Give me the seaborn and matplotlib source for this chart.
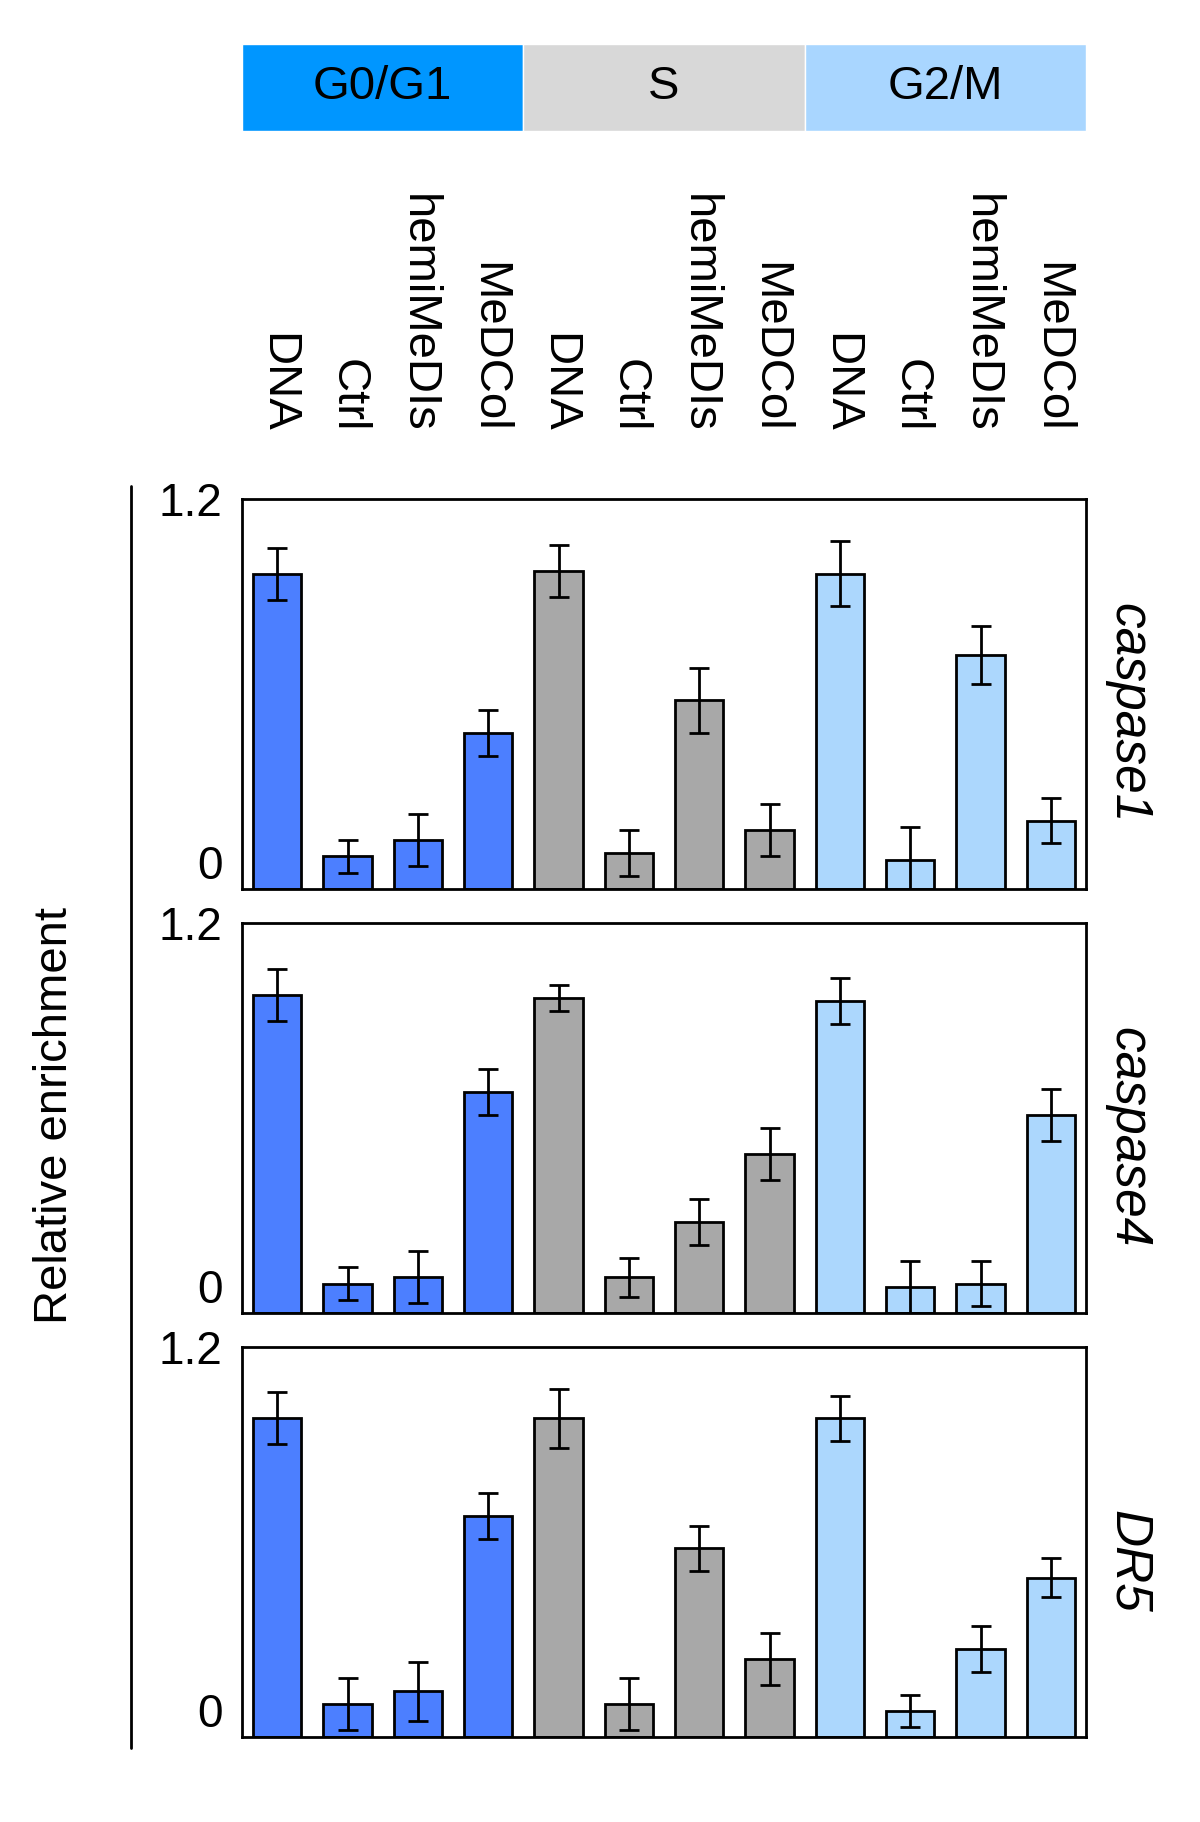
import numpy as np
import pandas as pd
import matplotlib.pyplot as plt
from matplotlib.lines import Line2D
import seaborn as sns

phases = ['G0/G1', 'S', 'G2/M']
treatments = ['DNA', 'Ctrl', 'hemiMeDIs', 'MeDCol']
genes = ['caspase1', 'caspase4', 'DR5']

caspase1_mean = [0.97, 0.10, 0.15, 0.48, 0.98, 0.11, 0.58, 0.18, 0.97, 0.09, 0.72, 0.21]
caspase1_err = [0.08, 0.05, 0.08, 0.07, 0.08, 0.07, 0.10, 0.08, 0.10, 0.10, 0.09, 0.07]
caspase4_mean = [0.98, 0.09, 0.11, 0.68, 0.97, 0.11, 0.28, 0.49, 0.96, 0.08, 0.09, 0.61]
caspase4_err = [0.08, 0.05, 0.08, 0.07, 0.04, 0.06, 0.07, 0.08, 0.07, 0.08, 0.07, 0.08]
dr5_mean = [0.98, 0.10, 0.14, 0.68, 0.98, 0.10, 0.58, 0.24, 0.98, 0.08, 0.27, 0.49]
dr5_err = [0.08, 0.08, 0.09, 0.07, 0.09, 0.08, 0.07, 0.08, 0.07, 0.05, 0.07, 0.06]

bar_colors = ['#4C7FFF', '#A8A8A8', '#ACD7FD']
strip_colors = ['#0096FF', '#D8D8D8', '#A9D6FF']

sns.set_style('white')
plt.rcParams['font.family'] = ['Liberation Sans', 'DejaVu Sans']
plt.rcParams['text.color'] = 'black'
plt.rcParams['xtick.color'] = 'black'
plt.rcParams['ytick.color'] = 'black'

# long table: one row per bar
rows = []
for phase in phases:
    for t in treatments:
        rows.append({'phase': phase, 'treatment': t, 'key': phase + ' ' + t})
df = pd.DataFrame(rows)
df['caspase1'] = caspase1_mean
df['caspase4'] = caspase4_mean
df['DR5'] = dr5_mean
errs = {'caspase1': caspase1_err, 'caspase4': caspase4_err, 'DR5': dr5_err}
palette = dict(zip(phases, bar_colors))

fig = plt.figure(figsize=(12, 18.22), dpi=100)
left, width = 0.2017, 0.7033

# cell-cycle strip on top
ax_strip = fig.add_axes([left, 0.9281, width, 0.0478])
for i, phase in enumerate(phases):
    ax_strip.barh(0, 4, left=i * 4 - 0.5, height=1, color=strip_colors[i])
    ax_strip.text(i * 4 + 1.5, 0, phase, ha='center', va='center', fontsize=34)
ax_strip.set_xlim(-0.5, 11.5)
ax_strip.set_ylim(-0.5, 0.5)
ax_strip.axis('off')

bottoms = [0.5121, 0.2794, 0.0467]
for k, gene in enumerate(genes):
    ax = fig.add_axes([left, bottoms[k], width, 0.214])
    sns.barplot(data=df, x='key', y=gene, hue='phase', palette=palette,
                dodge=False, legend=False, width=0.69, saturation=1,
                edgecolor='black', linewidth=2, ax=ax)
    ax.errorbar(np.arange(len(df)), df[gene], yerr=errs[gene], fmt='none',
                ecolor='black', elinewidth=2, capsize=7, capthick=2)
    ax.set_xlim(-0.5, 11.5)
    ax.set_ylim(0, 1.2)
    ax.set_yticks([0, 1.2])
    ax.set_yticklabels(['0', '1.2'])
    ax.tick_params(axis='y', length=0, pad=14, labelsize=33)
    ylabels = ax.get_yticklabels()
    ylabels[0].set_va('bottom')
    ax.set_xlabel('')
    ax.set_ylabel('')
    for s in ax.spines.values():
        s.set_visible(True)
        s.set_color('black')
        s.set_linewidth(2)
    ax.text(1.05, 0.45, gene, transform=ax.transAxes, rotation=270,
            ha='center', va='center', fontsize=37, style='italic')
    if k == 0:
        ax.set_xticks(range(len(df)))
        ax.set_xticklabels(df['treatment'], rotation=270, fontsize=34)
        ax.tick_params(axis='x', top=True, labeltop=True, bottom=False,
                       labelbottom=False, length=0, pad=48)
    else:
        ax.set_xticks([])

fig.add_artist(Line2D([0.109, 0.109], [0.0406, 0.7333], color='black', lw=2))
fig.text(0.046, 0.388, 'Relative enrichment', rotation=90, ha='center',
         va='center', fontsize=34)

fig.savefig('out.png', dpi=100)
